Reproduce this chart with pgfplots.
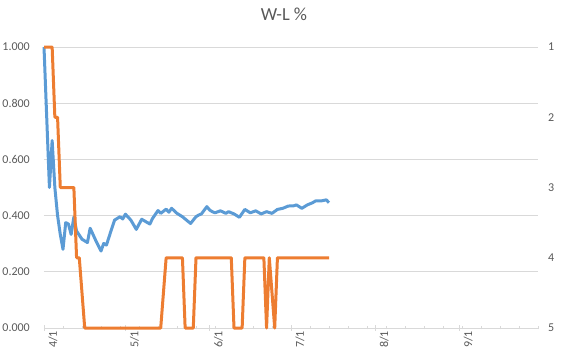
\documentclass[border=0pt]{standalone}
\usepackage{pgfplots}
\pgfplotsset{compat=1.18}
\usepackage{fontspec}
\setmainfont{Carlito}
\definecolor{wlblue}{HTML}{5B9BD5}
\definecolor{rkorange}{HTML}{ED7D31}
\definecolor{gridgray}{HTML}{D9D9D9}
\definecolor{labelgray}{HTML}{595959}

\pgfplotstableread{
day value
0 1.000
2 0.500
3 0.667
4 0.500
5 0.400
6 0.333
7 0.280
8 0.375
9 0.370
10 0.333
11 0.395
12 0.345
14 0.316
16 0.304
17 0.355
19 0.313
21 0.274
22 0.301
23 0.295
25 0.355
26 0.384
28 0.396
29 0.388
30 0.405
32 0.384
34 0.351
36 0.387
39 0.370
40 0.390
42 0.418
43 0.408
45 0.423
46 0.412
47 0.426
49 0.408
51 0.396
54 0.372
56 0.396
57 0.402
58 0.406
60 0.432
61 0.420
62 0.414
63 0.410
65 0.417
67 0.408
68 0.414
70 0.406
72 0.394
74 0.422
76 0.410
78 0.417
80 0.406
82 0.414
84 0.408
86 0.422
88 0.426
90 0.434
92 0.435
93 0.438
95 0.426
97 0.438
99 0.446
100 0.452
102 0.452
104 0.456
105 0.446
}\wltable

\pgfplotstableread{
day rank
0 1
3 1
4 2
5 2
6 3
11 3
12 4
13 4
15 5
43 5
45 4
51 4
52 5
55 5
56 4
69 4
70 5
73 5
74 4
81 4
82 5
83 4
85 5
86 4
105 4
}\ranktable

\begin{document}
\begin{tikzpicture}
\path[use as bounding box] (-44pt,-26pt) rectangle (522pt,328pt);
\begin{axis}[
  at={(0pt,0pt)}, anchor=south west,
  scale only axis, width=494pt, height=281pt,
  xmin=0, xmax=182, ymin=0, ymax=1,
  axis x line*=bottom, axis y line*=left,
  y axis line style={draw=none},
  x axis line style={draw=gridgray, line width=0.75pt},
  ytick={0,0.2,0.4,0.6,0.8,1},
  ytick style={draw=none},
  ymajorgrids, grid style={draw=gridgray, line width=0.75pt},
  xtick={0,30,61,91,122,153},
  xticklabels={4/1,5/1,6/1,7/1,8/1,9/1},
  minor xtick={0,7,...,182},
  tick align=center,
  major tick length=6pt, minor tick length=3pt,
  xtick style={draw=gridgray, line width=0.75pt},
  minor x tick style={draw=gridgray, line width=0.75pt},
  tick label style={font=\fontsize{12pt}{14pt}\selectfont, text=labelgray},
  yticklabel style={/pgf/number format/fixed, /pgf/number format/fixed zerofill, /pgf/number format/precision=3, /pgf/number format/assume math mode=true},
  every y tick label/.append style={inner sep=0pt, anchor=east, xshift=-11pt},
  every x tick label/.append style={inner sep=0pt, rotate=90, anchor=east, yshift=-9pt},
  clip=false,
]
\addplot[wlblue, line width=3pt, line join=round, mark=none] table[x=day, y=value] {\wltable};
\end{axis}
\begin{axis}[
  at={(0pt,0pt)}, anchor=south west,
  scale only axis, width=494pt, height=281pt,
  xmin=0, xmax=182, ymin=1, ymax=5, y dir=reverse,
  hide x axis,
  axis y line*=right,
  y axis line style={draw=none},
  ytick={1,2,3,4,5},
  ytick style={draw=none},
  tick label style={font=\fontsize{12pt}{14pt}\selectfont, text=labelgray},
  yticklabel style={/pgf/number format/assume math mode=true},
  every y tick label/.append style={inner sep=0pt, anchor=west, xshift=10pt},
  clip=false,
]
\addplot[rkorange, line width=3pt, line join=round, mark=none] table[x=day, y=rank] {\ranktable};
\end{axis}
\node[text=labelgray, font=\fontsize{18.4pt}{20pt}\selectfont] at (240pt,314pt) {W-L \%};
\end{tikzpicture}
\end{document}
